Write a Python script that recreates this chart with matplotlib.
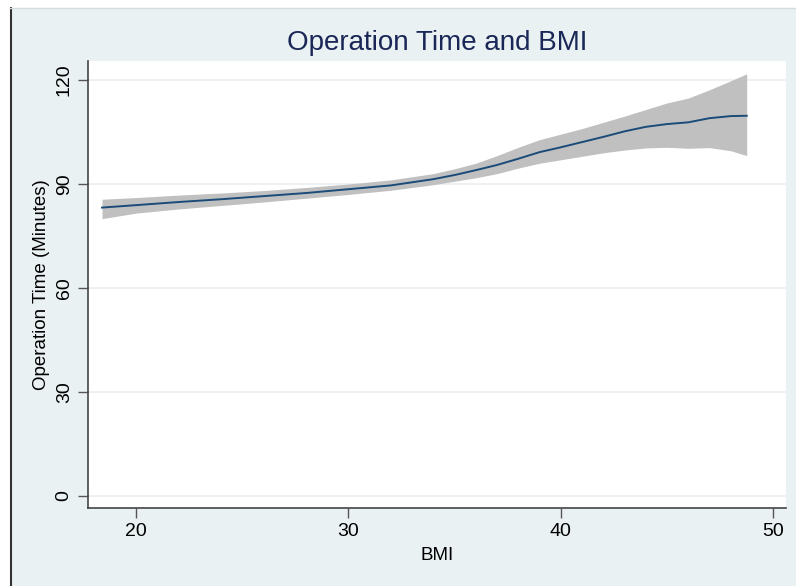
import numpy as np
import matplotlib.pyplot as plt
from matplotlib.patches import Rectangle
from matplotlib.lines import Line2D

plt.rcParams['font.family'] = ['Liberation Sans', 'DejaVu Sans']

# Smoothed operation time vs BMI with confidence band
bmi = [18.4, 20, 22, 24, 26, 28, 30, 32, 34, 35, 36, 37, 38, 39, 40,
       41, 42, 43, 44, 45, 46, 47, 48, 48.75]
fit = [83.2, 83.9, 84.8, 85.6, 86.5, 87.4, 88.5, 89.6, 91.4, 92.6, 94.0, 95.5,
       97.3, 99.2, 100.6, 102.1, 103.6, 105.2, 106.5, 107.3, 107.8, 109.0, 109.6, 109.7]
upper = [85.6, 86.1, 86.8, 87.4, 88.1, 89.0, 90.0, 91.2, 93.0, 94.4, 96.0, 98.2,
         100.6, 102.8, 104.4, 106.0, 107.8, 109.6, 111.5, 113.4, 114.8, 117.2, 119.8, 121.8]
lower = [80.0, 81.6, 82.8, 83.8, 84.8, 85.9, 87.0, 88.2, 89.8, 90.8, 91.8, 93.0,
         94.6, 96.0, 97.0, 98.0, 99.0, 99.8, 100.4, 100.6, 100.3, 100.5, 99.6, 98.2]

x_ticks = [20, 30, 40, 50]
y_ticks = [0, 30, 60, 90, 120]

bg = '#EAF1F3'
W, H = 796, 586
fig = plt.figure(figsize=(W / 100, H / 100), dpi=100, facecolor='white')

# outer graph region, kept behind the axes
fig.patches.append(Rectangle((10 / W, 0), 1 - 10 / W, 1 - 8 / H,
                             transform=fig.transFigure, facecolor=bg,
                             edgecolor='none', zorder=-5))
fig.lines.append(Line2D([10.5 / W, 10.5 / W], [0, 1 - 8 / H],
                        transform=fig.transFigure, color='#333333', lw=1.5,
                        zorder=-4))
fig.lines.append(Line2D([10 / W, 1], [1 - 8 / H, 1 - 8 / H],
                        transform=fig.transFigure, color='#D5DCDF', lw=1,
                        zorder=-4))

ax = fig.add_axes([88 / W, 78 / H, 698 / W, 447 / H])
ax.set_facecolor('white')

ax.fill_between(bmi, lower, upper, color='#C0C0C0', lw=0, zorder=2)
ax.plot(bmi, fit, color='#1B4B78', lw=1.4, zorder=3)

ax.set_xlim(17.74, 50.6)
ax.set_ylim(-3.5, 125.5)
ax.set_xticks(x_ticks)
ax.set_yticks(y_ticks)
ax.set_yticklabels([str(v) for v in y_ticks], rotation=90, va='center')
ax.grid(axis='y', color='#E8EFF2', lw=1.2, zorder=1)
ax.set_axisbelow(True)

for s in ['top', 'right']:
    ax.spines[s].set_visible(False)
for s in ['left', 'bottom']:
    ax.spines[s].set_color('#444444')
    ax.spines[s].set_linewidth(1.2)
ax.tick_params(direction='out', length=7, width=1, color='#555555',
               labelsize=14, labelcolor='black', pad=4)

ax.set_xlabel('BMI', fontsize=13.5, labelpad=5)
ax.set_ylabel('Operation Time (Minutes)', fontsize=13.5, labelpad=4)
ax.set_title('Operation Time and BMI', fontsize=20, color='#1A2656', pad=8)

fig.savefig('out.png', dpi=100, facecolor=fig.get_facecolor())
